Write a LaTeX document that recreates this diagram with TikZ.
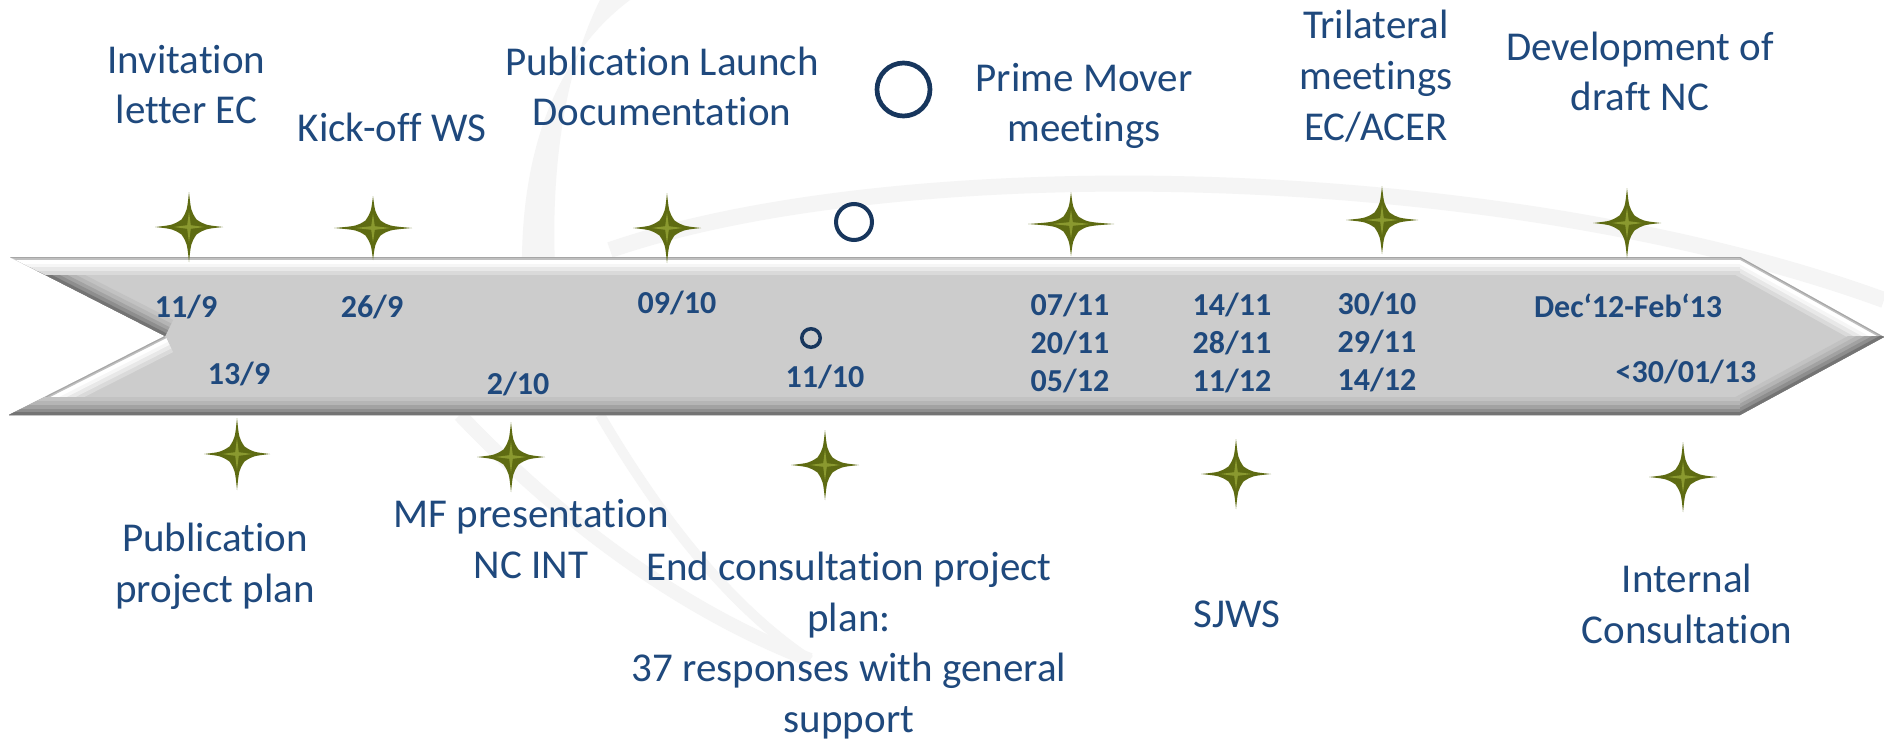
\documentclass[tikz,border=0pt]{standalone}
\usepackage{fontspec}
\setmainfont{Carlito}[Ligatures={NoCommon}]
\definecolor{txt}{RGB}{31,73,125}
\definecolor{navy}{RGB}{23,54,93}
\definecolor{olive}{RGB}{94,107,18}
\definecolor{olivelt}{RGB}{150,165,55}
\definecolor{afill}{RGB}{204,204,204}
\definecolor{adark}{RGB}{100,100,100}
\definecolor{wm}{RGB}{245,245,245}
\newcommand\mystar[5]{%
  \fill[olive] (#2,#3-#5) .. controls (#2+2,#3-16) .. (#2+7.5,#3-7.5) .. controls (#2+16,#3-2) .. (#2+#4,#3)
     .. controls (#2+16,#3+2) .. (#2+7.5,#3+7.5) .. controls (#2+2,#3+16) .. (#2,#3+#5)
     .. controls (#2-2,#3+16) .. (#2-7.5,#3+7.5) .. controls (#2-16,#3+2) .. (#2-#4,#3)
     .. controls (#2-16,#3-2) .. (#2-7.5,#3-7.5) .. controls (#2-2,#3-16) .. (#2,#3-#5) -- cycle;
  \fill[olivelt,opacity=0.8] (#2,#3-0.45*#5) -- (#2+1.8,#3-1.8) -- (#2+0.45*#4,#3) -- (#2+1.8,#3+1.8) -- (#2,#3+0.45*#5) -- (#2-1.8,#3+1.8) -- (#2-0.45*#4,#3) -- (#2-1.8,#3-1.8) -- cycle;
  \coordinate (#1) at (#2,#3);}
\newcommand\hilite[2]{%
  \foreach \w/\c in {36/afill!72!white, 28/afill!45!white, 20/afill!18!white, 13/white, 5/black!25, 2/black!35}
    {\draw[line width=\w pt, color=\c] (#1) -- (#2);}}
\newcommand\shadowedge[2]{%
  \foreach \w/\c in {36/afill!90!adark, 28/afill!78!adark, 20/afill!60!adark, 13/afill!40!adark, 6/afill!15!adark}
    {\draw[line width=\w pt, color=\c] (#1) -- (#2);}}
\tikzset{
  lbl/.style={text=txt, font=\fontsize{41}{50.5}\selectfont, align=center, anchor=base, inner sep=0pt},
  dt/.style={text=txt, font=\fontsize{32}{38}\selectfont\bfseries, align=center, anchor=base, inner sep=0pt},
  ring/.style={circle, draw=navy, inner sep=0pt, outer sep=0pt}
}
\begin{document}
\begin{tikzpicture}[x=1pt,y=-1pt]
\useasboundingbox[fill=white] (0,0) rectangle (1884,741);
% faint watermark
\fill[wm] (630,0) .. controls (550,60) and (510,170) .. (525,330) -- (560,330) .. controls (545,200) and (560,80) .. (600,0) -- cycle;
\draw[wm, line width=16pt] (610,250) .. controls (900,150) and (1500,160) .. (1884,300);
\draw[wm, line width=14pt] (460,415) .. controls (560,520) and (680,610) .. (810,660);
\draw[wm, line width=10pt] (600,415) .. controls (650,500) and (720,600) .. (810,660);
% arrow
\coordinate (A) at (10,257);
\coordinate (B) at (1740,257);
\coordinate (T) at (1884,337);
\coordinate (C) at (1740,415);
\coordinate (D) at (9,415);
\coordinate (N) at (165,336);
\fill[afill] (A) -- (B) -- (T) -- (C) -- (D) -- (N) -- cycle;
\begin{scope}
  \clip (A) -- (B) -- (T) -- (C) -- (D) -- (N) -- cycle;
  \begin{scope}
    \clip (0,0) rectangle (1884,336.5);
    \shadowedge{A}{N}
    \hilite{B}{T}
  \end{scope}
  \begin{scope}
    \clip (0,336.5) rectangle (1884,741);
    \hilite{N}{D}
    \shadowedge{T}{C}
  \end{scope}
  \shadowedge{C}{D}
  \hilite{A}{B}
\end{scope}
% stars
\mystar{s1}{189}{227}{34}{35}
\mystar{s2}{373}{228}{39}{32}
\mystar{s3}{667}{228}{34}{35}
\mystar{s4}{1071}{224}{43}{32}
\mystar{s5}{1382}{220}{36}{34}
\mystar{s6}{1627}{223}{34}{35}
\mystar{b1}{237}{454}{33}{36}
\mystar{b2}{511}{457}{34}{35}
\mystar{b3}{825}{465}{34}{35}
\mystar{b4}{1236}{474}{35}{35}
\mystar{b5}{1683}{477}{34}{35}
% circles
\node[ring, line width=4.7pt, minimum size=53pt] (c1) at (903.5,89.5) {};
\node[ring, line width=4pt, minimum size=36pt] (c2) at (854,222) {};
\node[ring, line width=3.5pt, minimum size=18.5pt] (c3) at (811,338) {};
% top labels (anchor = baseline of last line)
\node[lbl] (inv) at (186.5,124) {Invitation\\letter EC};
\node[lbl] (kick) at (392,142) {Kick-off WS};
\node[lbl] (publ) at (662,126) {Publication Launch\\Documentation};
\node[lbl] (prime) at (1084,142) {Prime Mover\\meetings};
\node[lbl] (tri) at (1376,140) {Trilateral\\meetings\\EC/ACER};
\node[lbl] (dev) at (1640,111) {Development of\\draft NC};
% bottom labels
\node[lbl] (pub) at (215,602) {Publication\\project plan};
\node[lbl] (mf) at (531,578) {MF presentation\\NC INT};
\node[lbl] (endc) at (849,732) {End consultation project\\plan:\\37 responses with general\\support};
\node[lbl] (sjws) at (1237,627) {SJWS};
\node[lbl] (int) at (1687,643) {Internal\\Consultation};
% dates
\node[dt] (d1) at (186,317) {11/9};
\node[dt] (d2) at (372,317) {26/9};
\node[dt] (d3) at (239,384) {13/9};
\node[dt] (d4) at (518,394) {2/10};
\node[dt] (d5) at (677,313) {09/10};
\node[dt] (d6) at (825,387) {11/10};
\node[dt] (d7) at (1070,391) {07/11\\20/11\\05/12};
\node[dt] (d8) at (1232,391) {14/11\\28/11\\11/12};
\node[dt] (d9) at (1377,390) {30/10\\29/11\\14/12};
\node[dt] (d10) at (1628,317) {Dec‘12-Feb‘13};
\node[dt] (d11) at (1686,382) {<30/01/13};
\end{tikzpicture}
\end{document}
